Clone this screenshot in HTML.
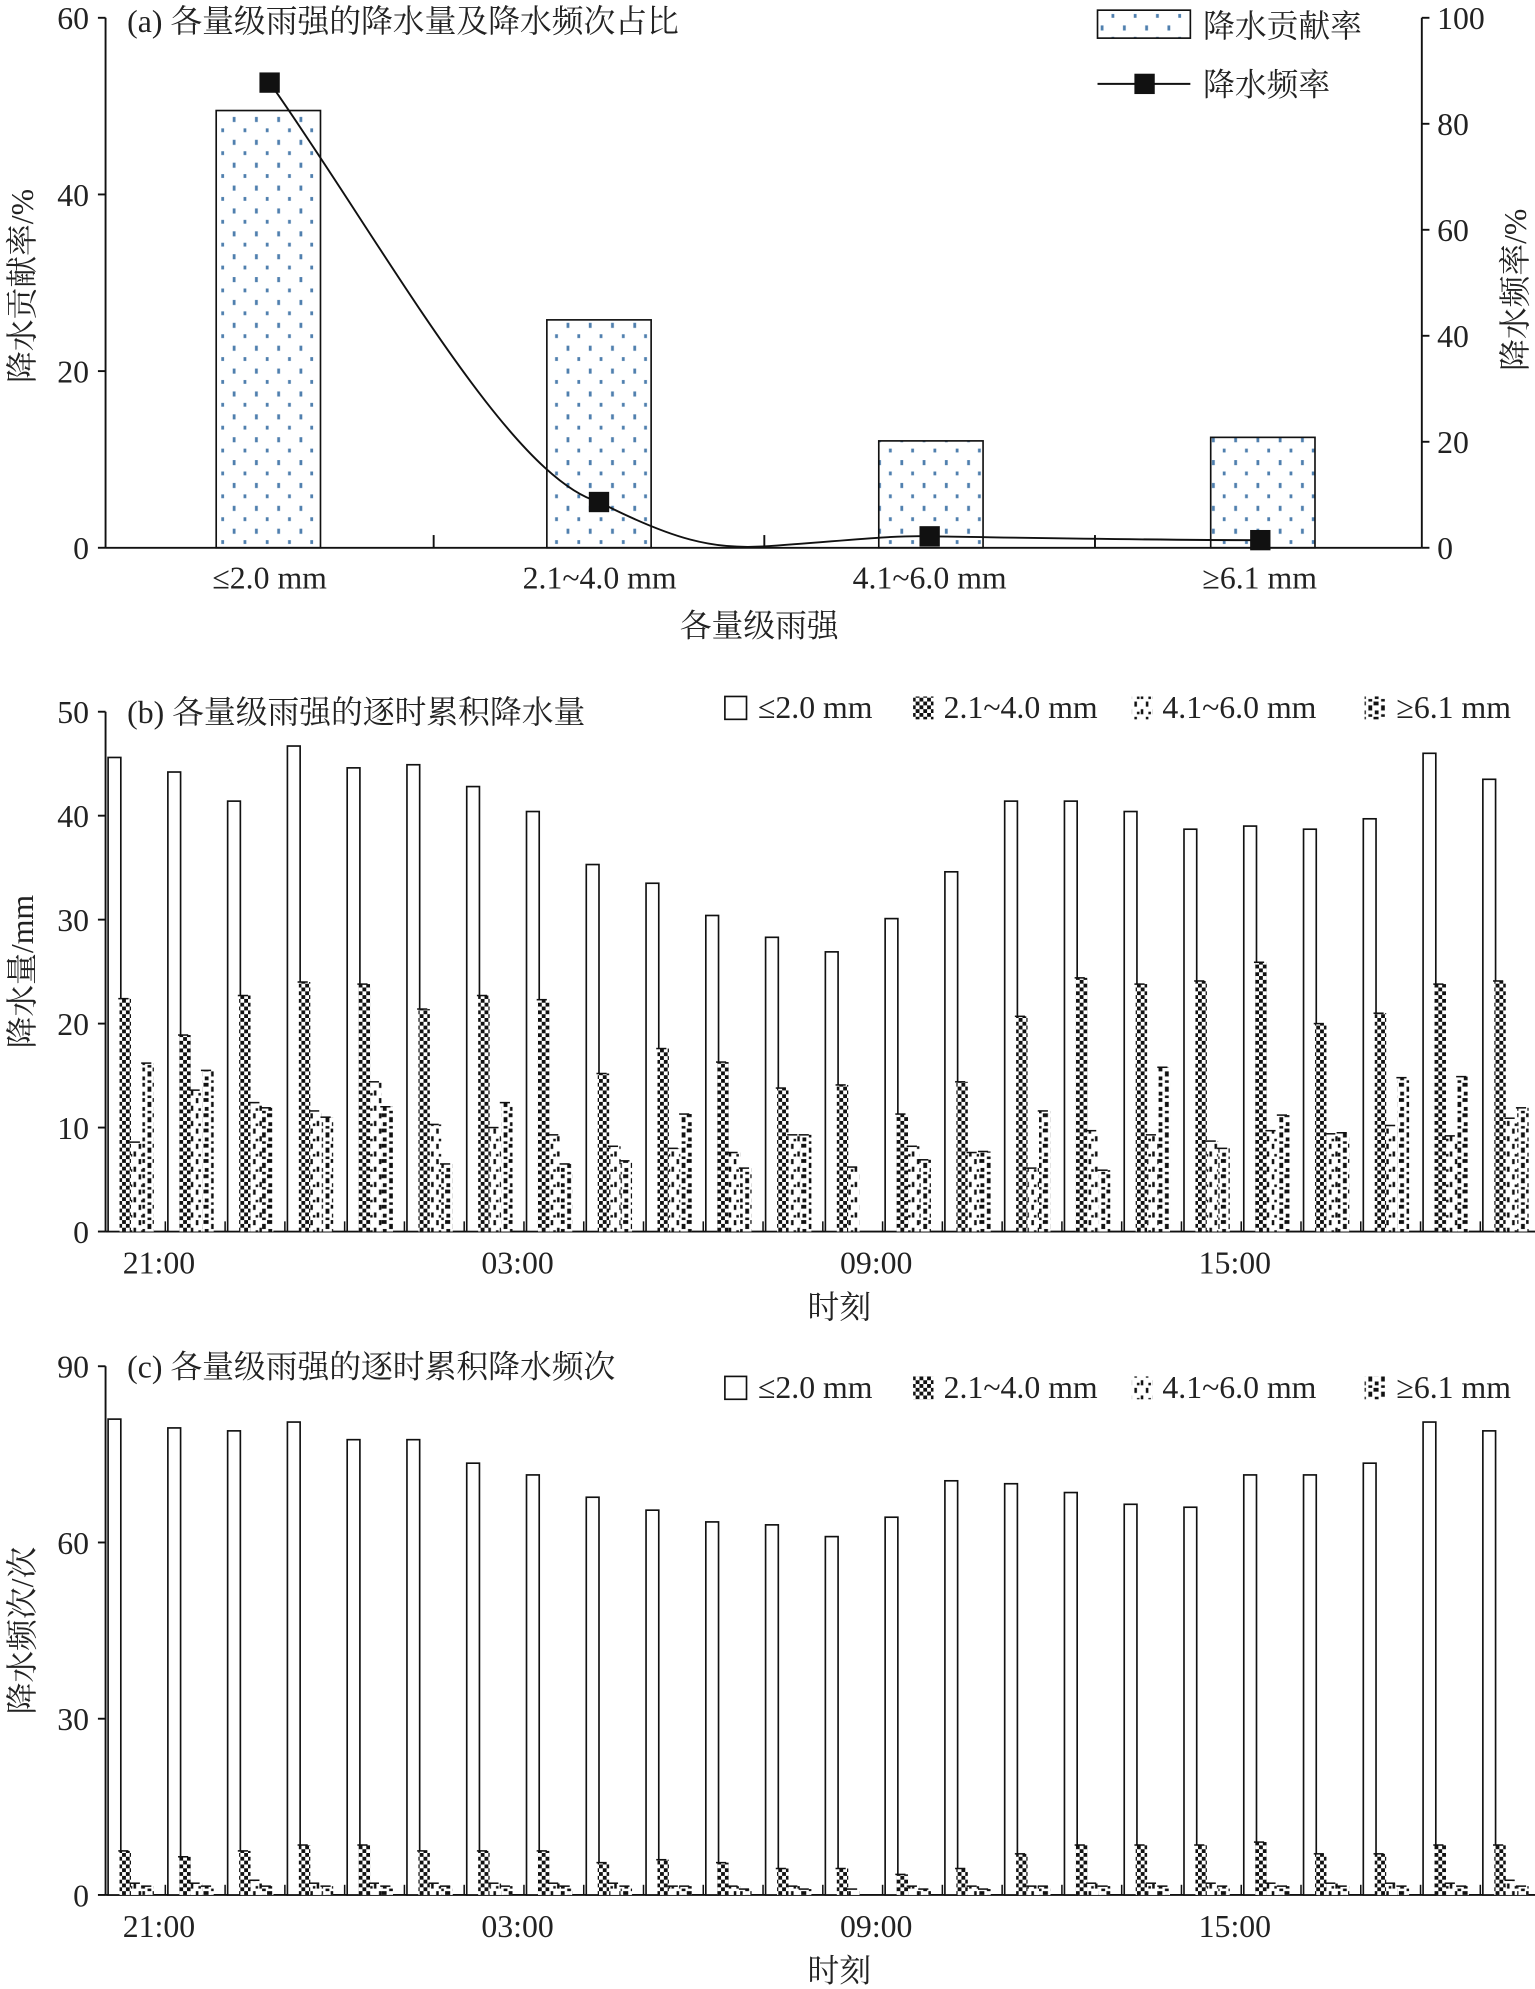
<!DOCTYPE html>
<html><head><meta charset="utf-8"><style>
html,body{margin:0;padding:0;background:#fff}
svg{display:block}
text{font-family:"Liberation Serif","Noto Serif CJK SC",serif;fill:#222}
</style></head><body>
<svg id="s" width="1535" height="1989" viewBox="0 0 1207 1565" preserveAspectRatio="none" xmlns="http://www.w3.org/2000/svg">
<defs>
<pattern id="dots" width="17.5" height="18" patternUnits="userSpaceOnUse" x="5" y="90">
<rect x="3" y="2" width="2.2" height="4" fill="#4f7fae"/><rect x="11.5" y="11" width="2.2" height="3" fill="#4f7fae"/>
</pattern>
<pattern id="chk" width="6" height="6" patternUnits="userSpaceOnUse">
<rect width="6" height="6" fill="#fff"/><rect width="3" height="3" fill="#111"/><rect x="3" y="3" width="3" height="3" fill="#111"/>
</pattern>
<pattern id="dash" width="9" height="12" patternUnits="userSpaceOnUse">
<rect width="9" height="12" fill="#fff"/><rect x="1" y="0" width="2" height="4" fill="#111"/><rect x="6" y="6" width="2" height="4" fill="#111"/><rect x="3" y="8" width="2" height="2" fill="#111"/>
</pattern>
<pattern id="big" width="10" height="12" patternUnits="userSpaceOnUse">
<rect width="10" height="12" fill="#fff"/><rect x="0" y="0" width="4" height="3" fill="#111"/><rect x="6" y="3" width="3" height="4" fill="#111"/><rect x="1" y="7" width="3" height="3" fill="#111"/><rect x="6" y="10" width="3" height="2" fill="#111"/>
</pattern>
</defs>
<g id="g"></g>
</svg>
<script>
(function(){
var g=document.getElementById('g'),h='',FS=25;
function T(x,y,s,sz,anc,extra){h+='<text x="'+x+'" y="'+y+'" font-size="'+(sz||FS)+'" text-anchor="'+(anc||'start')+'" '+(extra||'')+'>'+s+'</text>';}
function L(x1,y1,x2,y2,w){h+='<line x1="'+x1+'" y1="'+y1+'" x2="'+x2+'" y2="'+y2+'" stroke="#111" stroke-width="'+(w||1.5)+'"/>';}
function R(x,y,w,hh,f,st){h+='<rect x="'+x+'" y="'+y+'" width="'+w+'" height="'+hh+'" fill="'+f+'" '+(st?'stroke="#111" stroke-width="1.3"':'')+'/>';}
var ax=83,ta=14,z=431;
L(ax,ta,ax,z);L(ax,z,1118,z);L(1118,ta,1118,z);
[0,20,40,60].forEach(function(v){var y=z-v/60*(z-ta);L(ax-6,y,ax,y);T(70,y+9,v,FS,'end');});
[0,20,40,60,80,100].forEach(function(v){var y=z-v/100*(z-ta);L(1118,y,1124,y);T(1130,y+9,v,FS);});
[341,601,861].forEach(function(x){L(x,z,x,z-10);});
var bars=[[170,49.5],[430,25.8],[691,12.1],[952,12.5]];
bars.forEach(function(b){var y=z-b[1]/60*(z-ta);R(b[0],y,82,z-y,'url(#dots)',1);});
h+='<path d="M212,65 C300,190 400,375 471,395 C530,425 560,432 600,430 C660,426 700,421 731,422 C800,423 900,425 991,425" fill="none" stroke="#111" stroke-width="1.5"/>';
[[212,65],[471,395],[731,422],[991,425]].forEach(function(p){R(p[0]-8,p[1]-8,16,16,'#111');});
T(100,25,'(a) 各量级雨强的降水量及降水频次占比',FS);
R(863,8,73,22,'url(#dots)',1);T(946,29,'降水贡献率',FS);
L(863,66,936,66);R(892,58,16,16,'#111');T(946,75,'降水频率',FS);
['≤2.0 mm','2.1~4.0 mm','4.1~6.0 mm','≥6.1 mm'].forEach(function(s,i){T(212+259.5*i,463,s,FS,'middle');});
T(597,501,'各量级雨强',FS,'middle');
T(0,0,'降水贡献率/%',FS,'middle','transform="translate(26,225) rotate(-90)"');
T(0,0,'降水频率/%',FS,'middle','transform="translate(1200,228) rotate(-90)"');
function panel(pt,zero,max,ticks,vals,title,ytitle,ly){
 L(83,pt,83,zero);L(83,zero,1207,zero);
 ticks.forEach(function(v){var y=zero-v/max*(zero-pt);L(77,y,83,y);T(70,y+9,v,FS,'end');});
 var pats=['#fff','url(#chk)','url(#dash)','url(#big)'];
 for(var i=0;i<24;i++){var x0=84+47*i;
  for(var k=0;k<4;k++){var v=vals[k][i];if(!v)continue;var y=zero-v/max*(zero-pt);var bx=x0+[1,10,19,28][k];
   R(bx,y,[10,9,9,9][k],zero-y,pats[k],k==0);
   if(k>0)L(bx-1,y,bx+7,y,1.2);}
  L(x0+46,zero,x0+46,zero-8,1.2);}
 ['21:00','03:00','09:00','15:00'].forEach(function(s,i){T(125+282*i,zero+33,s,FS,'middle');});
 T(660,zero+68,'时刻',FS,'middle');
 T(100,pt+9,title,FS);
 R(570,ly-17,17,18,'#fff',1);T(596,ly,'≤2.0 mm',FS);
 R(718,ly-17,16,18,'url(#chk)');T(742,ly,'2.1~4.0 mm',FS);
 R(890,ly-17,16,18,'url(#dash)');T(914,ly,'4.1~6.0 mm',FS);
 R(1073,ly-17,16,18,'url(#big)');T(1098,ly,'≥6.1 mm',FS);
 T(0,0,ytitle,FS,'middle','transform="translate(26,'+((pt+zero)/2)+') rotate(-90)"');
}
panel(560,969,50,[0,10,20,30,40,50],[
[45.6,44.2,41.4,46.7,44.6,44.9,42.8,40.4,35.3,33.5,30.4,28.3,26.9,30.1,34.6,41.4,41.4,40.4,38.7,39.0,38.7,39.7,46.0,43.5],
[22.4,18.9,22.7,24.0,23.8,21.4,22.7,22.3,15.2,17.6,16.3,13.8,14.1,11.3,14.4,20.7,24.4,23.8,24.1,25.9,20.0,21.0,23.8,24.1],
[8.6,13.6,12.4,11.6,14.4,10.3,10.0,9.3,8.2,8.0,7.6,9.3,6.2,8.2,7.6,6.1,9.7,9.3,8.7,9.7,9.4,10.2,9.2,10.9],
[16.2,15.5,11.9,11.0,12.0,6.5,12.4,6.5,6.8,11.3,6.1,9.3,0,6.9,7.7,11.6,5.9,15.8,8.0,11.2,9.5,14.8,14.9,11.9]],
'(b) 各量级雨强的逐时累积降水量','降水量/mm',565);
panel(1075,1491,90,[0,30,60,90],[
[81,79.5,79,80.5,77.5,77.5,73.5,71.5,67.7,65.5,63.5,63,61,64.3,70.5,70,68.5,66.5,66,71.5,71.5,73.5,80.5,79],
[7.5,6.5,7.5,8.5,8.5,7.5,7.5,7.5,5.5,6,5.5,4.5,4.5,3.5,4.5,7,8.5,8.5,8.5,9,7,7,8.5,8.5],
[2,2,2.5,2,2,2,2,2,2,1.5,1.5,1.5,1,1.5,1.5,1.5,2,2,2,2,2,2,2,2.5],
[1.5,1.5,1.5,1.5,1.5,1.5,1.5,1.5,1.5,1.5,1,1,0,1,1,1.5,1.5,1.5,1.5,1.5,1.5,1.5,1.5,1.5]],
'(c) 各量级雨强的逐时累积降水频次','降水频次/次',1100);
g.innerHTML=h;
})();
</script>
</body></html>
